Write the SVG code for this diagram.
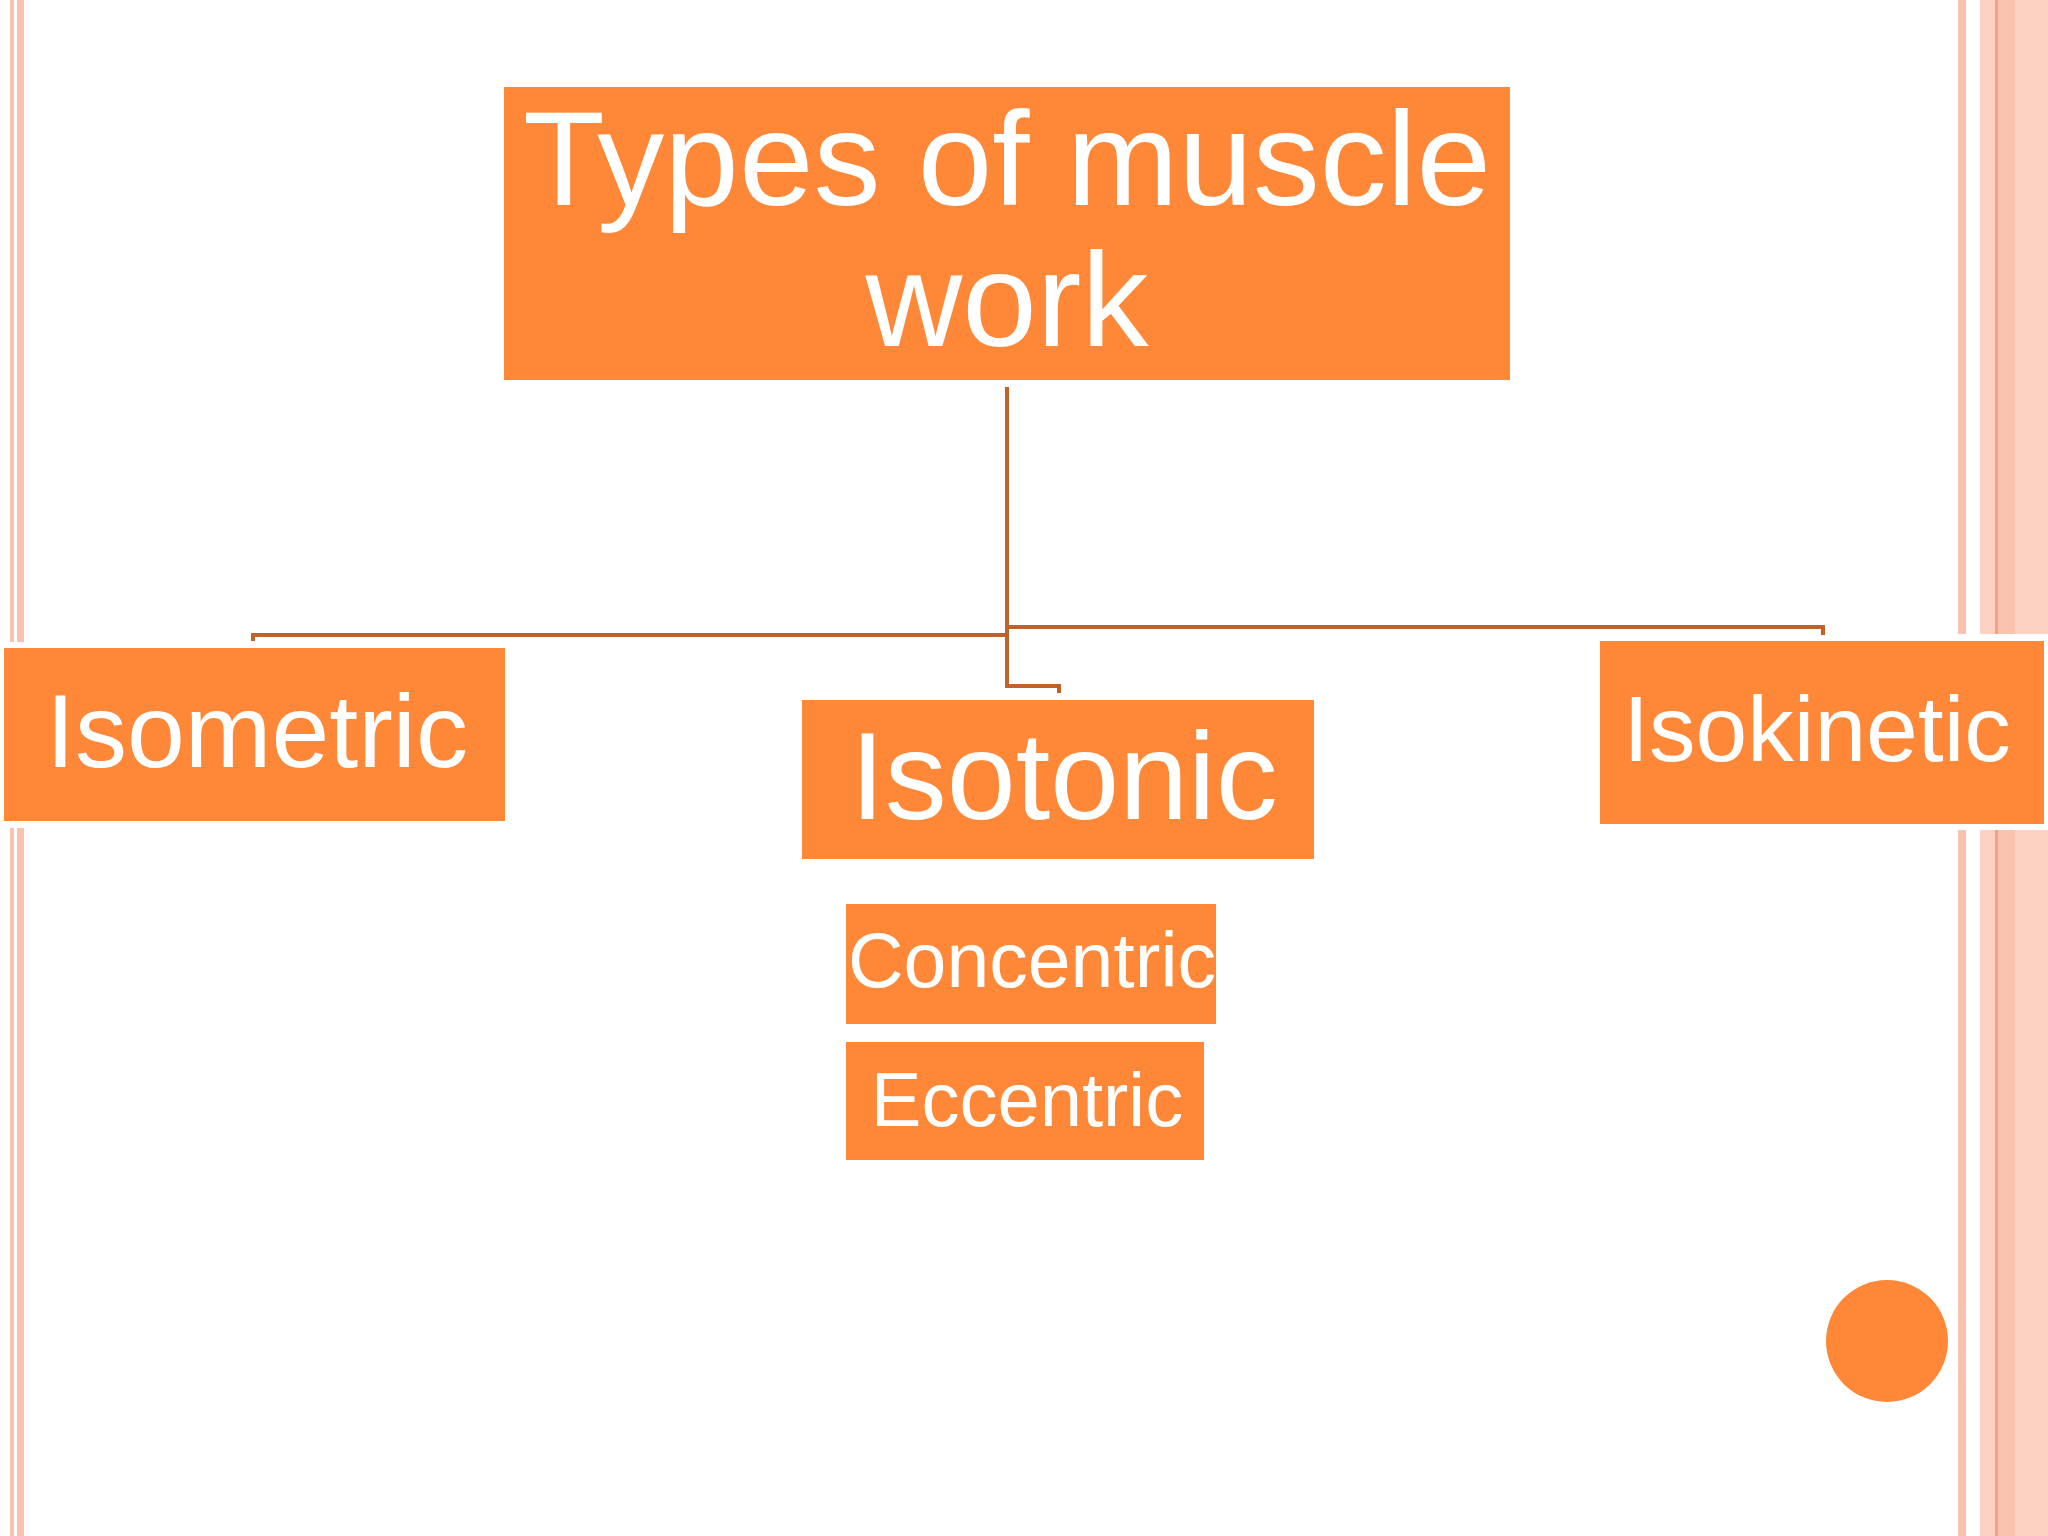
<svg xmlns="http://www.w3.org/2000/svg" width="2048" height="1536" viewBox="0 0 2048 1536">
<style>
.box{fill:#fe8838}
.t{fill:#fff;font-family:"Liberation Sans",Arial,sans-serif;text-anchor:middle}
.c{fill:none;stroke:#c0622a;stroke-width:4}
.p{fill:#fac3b0}
.l{fill:#fdd2c3}
</style>
<rect width="2048" height="1536" fill="#fff"/>
<g id="border">
<rect class="p" x="10" y="0" width="4" height="642"/><rect class="p" x="17" y="0" width="7" height="642"/>
<rect class="p" x="10" y="828" width="4" height="708"/><rect class="p" x="17" y="828" width="7" height="708"/>
<rect class="p" x="1958" y="0" width="8" height="634"/><rect class="l" x="1980" y="0" width="68" height="634"/><rect class="p" x="1998" y="0" width="17" height="634"/><rect x="1995" y="0" width="3" height="634" fill="#f7a27e"/>
<rect class="p" x="1958" y="830" width="8" height="706"/><rect class="l" x="1980" y="830" width="68" height="706"/><rect class="p" x="1998" y="830" width="17" height="706"/><rect x="1995" y="830" width="3" height="706" fill="#f7a27e"/>
</g>
<g id="connectors">
<path class="c" d="M1007,387 V686 H1059 V693"/>
<path class="c" d="M1007,635 H253 V641"/>
<path class="c" d="M1007,627 H1823 V635"/>
</g>
<g id="title"><rect class="box" x="504" y="87" width="1006" height="293"/>
<text class="t" x="1007" y="205" font-size="134">Types of muscle</text>
<text class="t" x="1007" y="346" font-size="134">work</text></g>
<g id="isometric"><rect class="box" x="4" y="648" width="501" height="173"/>
<text class="t" x="257" y="767" font-size="104">Isometric</text></g>
<g id="isotonic"><rect class="box" x="802" y="700" width="512" height="159"/>
<text class="t" x="1064" y="819" font-size="124">Isotonic</text></g>
<g id="isokinetic"><rect class="box" x="1600" y="641" width="444" height="183"/>
<text class="t" x="1817" y="761" font-size="93">Isokinetic</text></g>
<g id="concentric"><rect class="box" x="846" y="904" width="370" height="120"/>
<text class="t" x="1032" y="987" font-size="77">Concentric</text></g>
<g id="eccentric"><rect class="box" x="846" y="1042" width="358" height="118"/>
<text class="t" x="1027" y="1126" font-size="76">Eccentric</text></g>
<circle cx="1887" cy="1341" r="61" fill="#fe8838"/>
</svg>
